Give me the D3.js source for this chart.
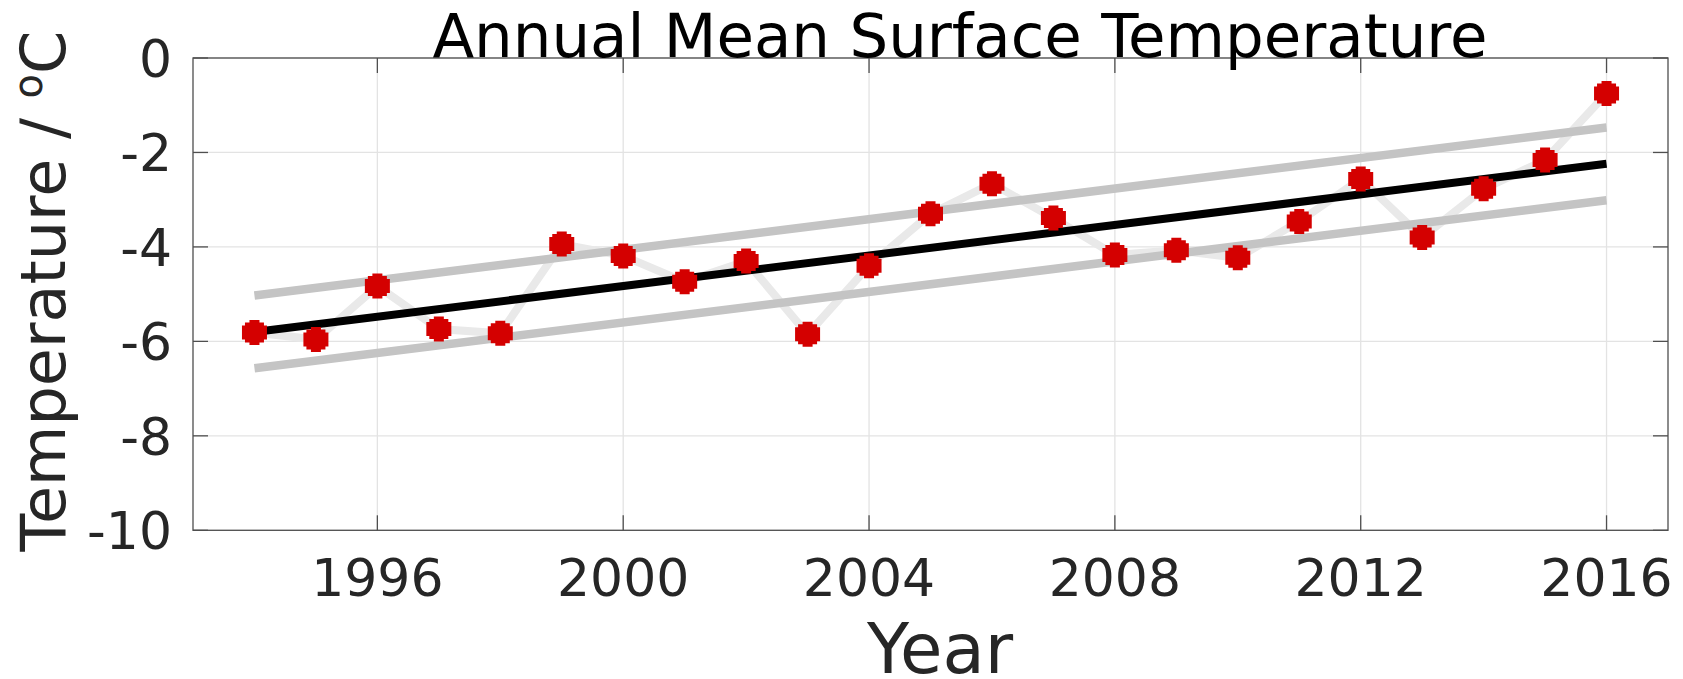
<!DOCTYPE html>
<html>
<head>
<meta charset="utf-8">
<script src="https://cdn.jsdelivr.net/npm/d3@7"></script>
<style>
  html, body { margin: 0; padding: 0; background: #fff; }
  svg { display: block; font-family: "DejaVu Sans", sans-serif; }
</style>
</head>
<body>
<svg id="chart" width="1683" height="679"></svg>
<script>
// ---- data ----
const years = [1994,1995,1996,1997,1998,1999,2000,2001,2002,2003,2004,2005,2006,2007,2008,2009,2010,2011,2012,2013,2014,2015,2016];
const temps = [-5.81,-5.96,-4.83,-5.74,-5.83,-3.94,-4.19,-4.74,-4.30,-5.85,-4.40,-3.30,-2.66,-3.39,-4.17,-4.07,-4.23,-3.46,-2.56,-3.80,-2.77,-2.16,-0.75];
const trendYears = [1994, 2016];
const trendValues = [-5.80, -2.24];
const upperBand = [-5.03, -1.47];
const lowerBand = [-6.57, -3.01];
const xTicks = [1996, 2000, 2004, 2008, 2012, 2016];
const yTicks = [0, -2, -4, -6, -8, -10];
const titleText = "Annual Mean Surface Temperature";
const xLabelText = "Year";

// ---- layout ----
const svg = d3.select("#chart");
const L = 193, R = 1668, T = 58, B = 530.3;
const x = d3.scaleLinear().domain([1993, 2017]).range([L, R]);
const y = d3.scaleLinear().domain([-10, 0]).range([B, T]);
const tickLen = 15;
const axisColor = "#4f4f4f";
const textColor = "#262626";

// grid
const grid = svg.append("g");
grid.selectAll("line.gx").data(xTicks).join("line")
  .attr("x1", d => x(d)).attr("x2", d => x(d)).attr("y1", T).attr("y2", B)
  .attr("stroke", "#e3e3e3").attr("stroke-width", 1.3);
grid.selectAll("line.gy").data(yTicks).join("line")
  .attr("x1", L).attr("x2", R).attr("y1", d => y(d)).attr("y2", d => y(d))
  .attr("stroke", "#e3e3e3").attr("stroke-width", 1.3);

// connecting line
const line = d3.line().x(d => x(d[0])).y(d => y(d[1]));
svg.append("path")
  .attr("d", line(years.map((yr, i) => [yr, temps[i]])))
  .attr("fill", "none").attr("stroke", "#e9e9e9").attr("stroke-width", 8)
  .attr("stroke-linejoin", "miter");

// bands
[upperBand, lowerBand].forEach(b => {
  svg.append("path")
    .attr("d", line(trendYears.map((yr, i) => [yr, b[i]])))
    .attr("fill", "none").attr("stroke", "#c4c4c4").attr("stroke-width", 8.5);
});
// trend
svg.append("path")
  .attr("d", line(trendYears.map((yr, i) => [yr, trendValues[i]])))
  .attr("fill", "none").attr("stroke", "#000").attr("stroke-width", 8);

// markers (stepped circle shape)
function markerPath(cx, cy) {
  const rects = [[12.5, 7], [9.5, 10], [5, 12.5]];
  return rects.map(([hw, hh]) =>
    `M${cx - hw},${cy - hh}h${2 * hw}v${2 * hh}h${-2 * hw}Z`).join("");
}
svg.append("g").selectAll("path").data(years).join("path")
  .attr("d", (d, i) => markerPath(x(d), y(temps[i])))
  .attr("fill", "#d40000");

// axes box
const ax = svg.append("g");
ax.append("rect").attr("x", L).attr("y", T).attr("width", R - L).attr("height", B - T)
  .attr("fill", "none").attr("stroke", axisColor).attr("stroke-width", 1.3);
// ticks
xTicks.forEach(t => {
  ax.append("line").attr("x1", x(t)).attr("x2", x(t)).attr("y1", B).attr("y2", B - tickLen)
    .attr("stroke", axisColor).attr("stroke-width", 1.3);
  ax.append("line").attr("x1", x(t)).attr("x2", x(t)).attr("y1", T).attr("y2", T + tickLen)
    .attr("stroke", axisColor).attr("stroke-width", 1.3);
});
yTicks.forEach(t => {
  ax.append("line").attr("x1", L).attr("x2", L + tickLen).attr("y1", y(t)).attr("y2", y(t))
    .attr("stroke", axisColor).attr("stroke-width", 1.3);
  ax.append("line").attr("x1", R).attr("x2", R - tickLen).attr("y1", y(t)).attr("y2", y(t))
    .attr("stroke", axisColor).attr("stroke-width", 1.3);
});

// tick labels
svg.append("g").selectAll("text").data(xTicks).join("text")
  .attr("x", d => x(d)).attr("y", 596)
  .attr("text-anchor", "middle").attr("font-size", 52).attr("fill", textColor)
  .text(d => d);
svg.append("g").selectAll("text").data(yTicks).join("text")
  .attr("x", 172).attr("y", d => y(d) + 19)
  .attr("text-anchor", "end").attr("font-size", 52).attr("fill", textColor)
  .text(d => d);

// title
svg.append("text").attr("x", 960).attr("y", 57).attr("text-anchor", "middle")
  .attr("font-size", 61).attr("fill", "#000").text(titleText);

// x label
svg.append("text").attr("x", 940).attr("y", 673).attr("text-anchor", "middle")
  .attr("font-size", 69).attr("fill", textColor).text(xLabelText);

// y label
const yl = svg.append("text")
  .attr("transform", "translate(65,291) rotate(-90)")
  .attr("text-anchor", "middle").attr("font-size", 62).attr("fill", textColor);
yl.append("tspan").text("Temperature / ");
yl.append("tspan").attr("font-size", 40).attr("dy", -23).text("o");
yl.append("tspan").attr("dy", 23).text("C");
</script>
</body>
</html>
